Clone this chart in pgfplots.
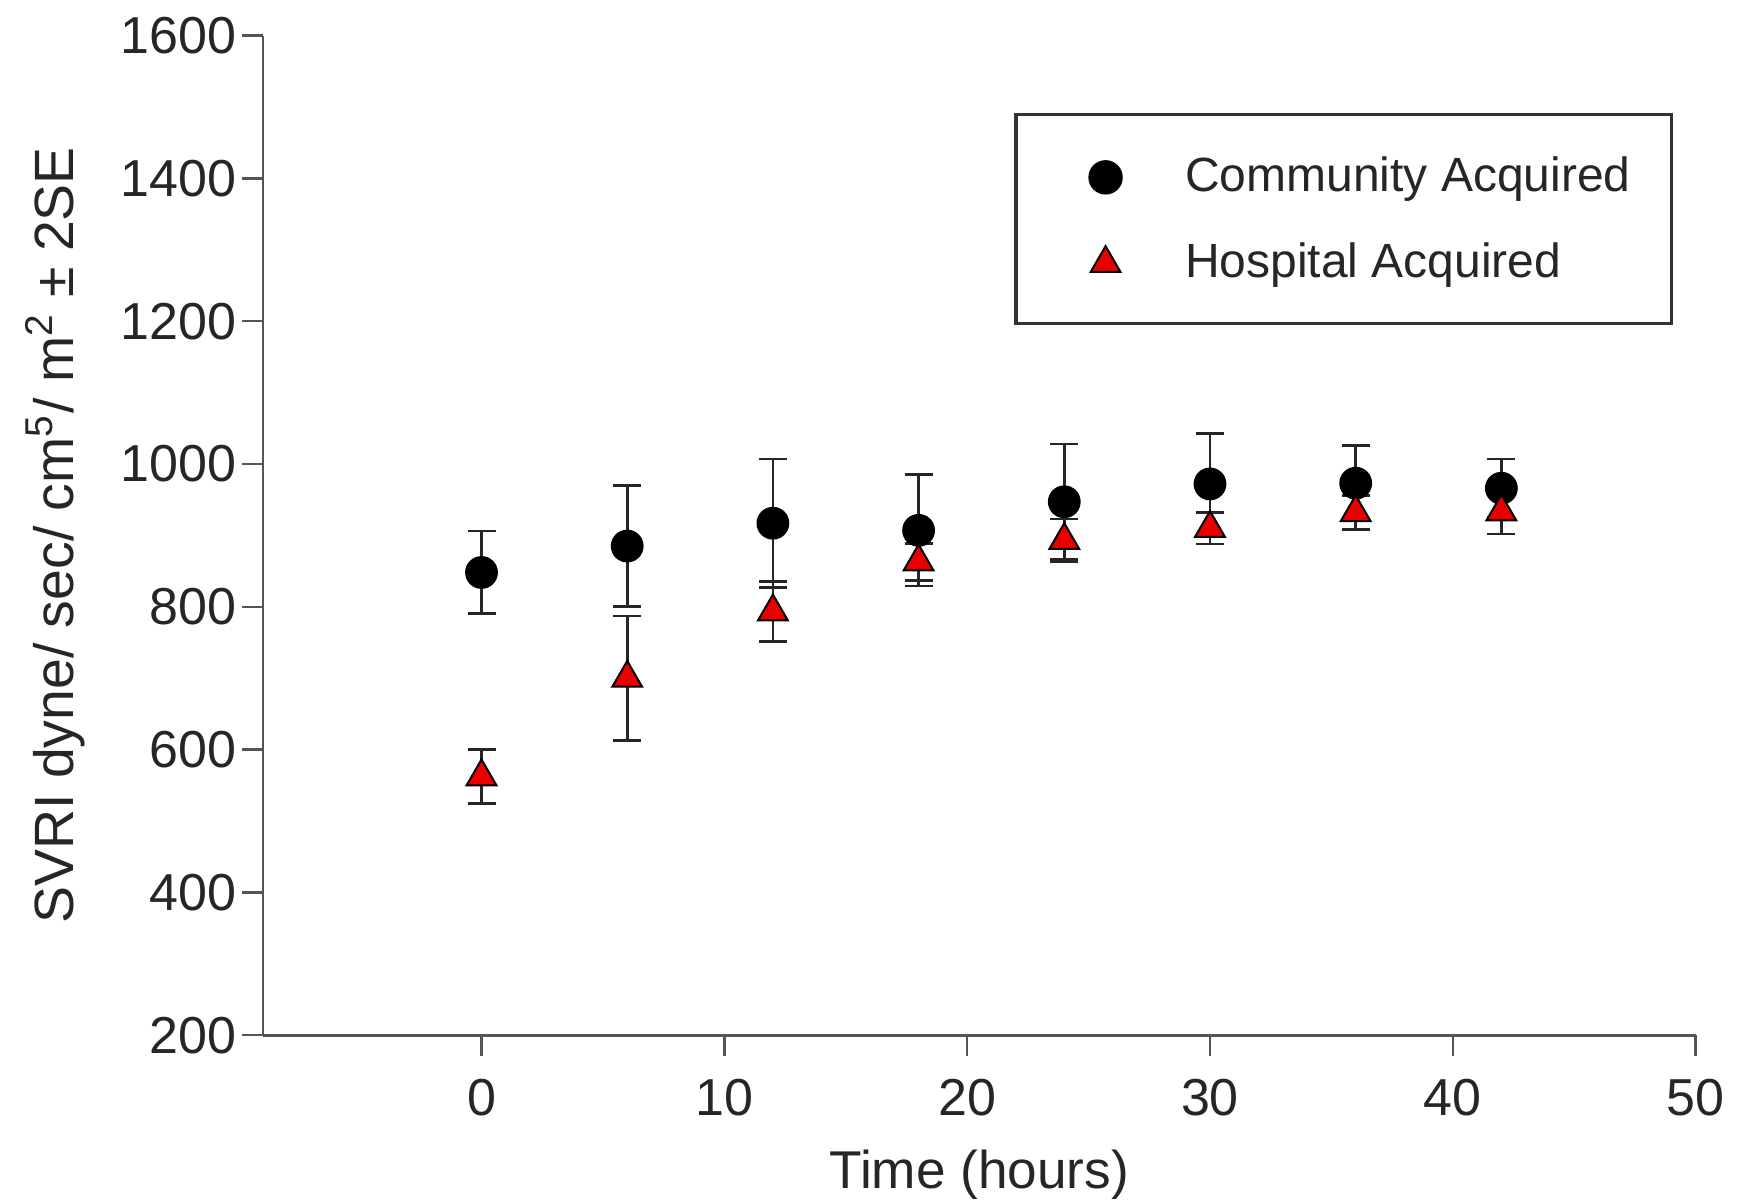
\documentclass[border=0pt]{standalone}
\usepackage{fontspec}
\setmainfont{Liberation Sans}
\usepackage{pgfplots}
\pgfplotsset{compat=1.18}
\definecolor{axgray}{HTML}{555555}
\definecolor{hared}{HTML}{E80000}
\pgfplotstableread{
t v e
0 848 58
6 885 85
12 917 90
18 907 78
24 947 81
30 972 71
36 973 53
42 966 41
}\tca
\pgfplotstableread{
t v e
0 562 38
6 700 87
12 793 42
18 863 26
24 893 30
30 910 22
36 932 24
42 933 31
}\tha
\begin{document}
\begin{tikzpicture}
\begin{axis}[
  scale only axis, width=358.2pt, height=249.9pt,
  xmin=-9, xmax=50, ymin=200, ymax=1600,
  axis lines*=left,
  xtick={0,10,...,50}, ytick={200,400,...,1600},
  tick align=outside, major tick length=5.3pt,
  tick style={line width=0.6pt, axgray},
  axis line style={line width=0.7pt, axgray},
  /pgf/number format/assume math mode=true,
  /pgf/number format/set thousands separator={},
  ticklabel style={font=\fontsize{13}{15}\selectfont, text=black!85},
  yticklabel style={xshift=2.2pt},
  xticklabel style={yshift=-2.2pt},
  xlabel={Time (hours)},
  ylabel={SVRI dyne/ sec/ cm\textsuperscript{5}/ m\textsuperscript{2} ± 2SE},
  every axis y label/.style={at={(axis description cs:-0.1449,0.5)}, rotate=90, anchor=center, font=\fontsize{13.85}{15}\selectfont, text=black!85},
  every axis x label/.style={at={(axis description cs:0.5,-0.1392)}, anchor=center, font=\fontsize{13.3}{15}\selectfont, text=black!85},
  legend style={at={(0.9845,0.923)}, anchor=north east, draw=black!80, line width=0.8pt,
    font=\fontsize{12}{14}\selectfont, inner xsep=10.3pt, inner ysep=9.4pt, row sep=9.4pt,
    nodes={inner sep=0pt, text=black!85}},
  legend cell align=left,
  legend image code/.code={\path (-11.7pt,-5.3pt) (19.5pt,6pt); \draw[#1] plot coordinates {(0pt,0pt)};},
  error bars/error bar style={line width=0.7pt, black!85},
  error bars/error mark options={rotate=90, line width=0.7pt, black!85, mark size=3.5pt},
]
\addplot[only marks, mark=*, mark size=3.9pt, black, mark options={fill=black},
  error bars/.cd, y dir=both, y explicit] table[x=t, y=v, y error=e] {\tca};
\addlegendentry{Community Acquired}
\addplot[only marks, mark=triangle*, mark size=4.3pt, black, mark options={fill=hared, draw=black, line width=0.5pt},
  error bars/.cd, y dir=both, y explicit] table[x=t, y=v, y error=e] {\tha};
\addlegendentry{Hospital Acquired}
\end{axis}
\pgfresetboundingbox
\path[use as bounding box] ([xshift=-65.75pt,yshift=-41.75pt]current axis.south west) rectangle ([xshift=11.1pt,yshift=8.9pt]current axis.north east);
\end{tikzpicture}
\end{document}
